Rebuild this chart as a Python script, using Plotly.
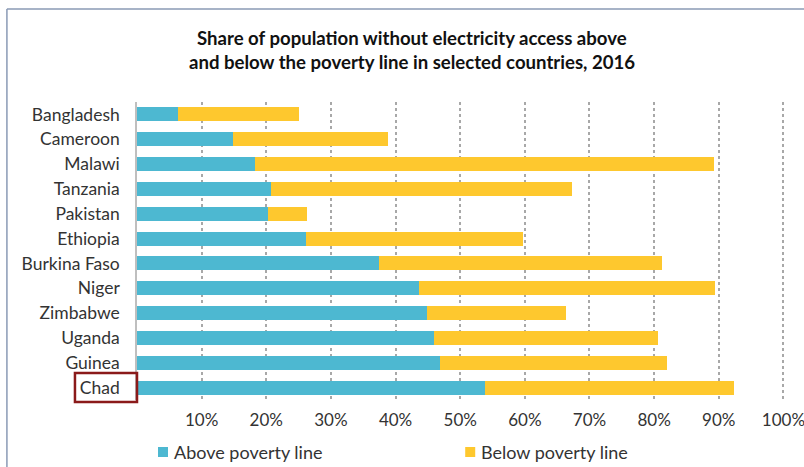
import plotly.graph_objects as go

countries = ["Bangladesh", "Cameroon", "Malawi", "Tanzania", "Pakistan", "Ethiopia",
             "Burkina Faso", "Niger", "Zimbabwe", "Uganda", "Guinea", "Chad"]
above = [6.4, 14.8, 18.3, 20.7, 20.3, 26.1, 37.5, 43.7, 44.9, 46.0, 46.8, 53.9]
below = [18.6, 24.0, 70.9, 46.6, 6.0, 33.6, 43.7, 45.7, 21.4, 34.6, 35.2, 38.4]
tick_vals = [10, 20, 30, 40, 50, 60, 70, 80, 90, 100]
tick_text = ["10%", "20%", "30%", "40%", "50%", "60%", "70%", "80%", "90%", "100%"]
series_names = ["Above poverty line", "Below poverty line"]

BLUE = "#4DB8D1"
YELLOW = "#FEC82E"
colors = [BLUE, YELLOW]

# plot area in pixels (x range slightly beyond 100 so the 100% gridline shows)
XMAX = 100.4
L, T, B = 137, 102, 400
R = L + 646 * XMAX / 100.0
W, H = R - L, B - T


def px(x):
    return (x - L) / W


def py(y):
    return (B - y) / H


fig = go.Figure()
for name, vals, col in zip(series_names, [above, below], colors):
    fig.add_trace(go.Bar(y=countries, x=vals, orientation="h", name=name,
                         marker=dict(color=col, line=dict(width=0)),
                         showlegend=False))

fig.update_layout(
    width=804, height=467,
    barmode="stack", bargap=0.43,
    paper_bgcolor="white", plot_bgcolor="white",
    margin=dict(l=L, r=804 - R, t=T, b=467 - B, autoexpand=False),
    font=dict(family="Lato", color="#333333"),
    xaxis=dict(range=[0, XMAX], tickmode="array", tickvals=tick_vals, ticktext=tick_text,
               showgrid=True, gridcolor="#A8A8A8", griddash="dot", gridwidth=1.5,
               zeroline=False, showline=False, ticks="", automargin=False,
               ticklabeloverflow="allow",
               tickfont=dict(family="Lato", size=17, color="#333333"),
               ticklabelstandoff=8, fixedrange=True),
    yaxis=dict(categoryorder="array", categoryarray=countries, autorange="reversed",
               showline=True, linecolor="#BFBFBF", linewidth=1.5, showgrid=False,
               ticks="", automargin=False,
               tickfont=dict(family="Lato", size=17.5, color="#333333"),
               ticklabelstandoff=12),
    showlegend=False,
)

fig.add_annotation(text="<b>Share of population without electricity access above</b>",
                   xref="paper", yref="paper", x=px(412), y=py(38),
                   xanchor="center", yanchor="middle", showarrow=False,
                   font=dict(family="Lato", size=18.6, color="#111111"))
fig.add_annotation(text="<b>and below the poverty line in selected countries, 2016</b>",
                   xref="paper", yref="paper", x=px(412), y=py(62),
                   xanchor="center", yanchor="middle", showarrow=False,
                   font=dict(family="Lato", size=18.6, color="#111111"))

# legend (manual)
legend_sq_x = [158, 465]
for sx, name, col in zip(legend_sq_x, series_names, colors):
    fig.add_shape(type="rect", xref="paper", yref="paper",
                  x0=px(sx), x1=px(sx + 10), y0=py(457), y1=py(447),
                  line=dict(width=0), fillcolor=col)
    fig.add_annotation(text=name, xref="paper", yref="paper",
                       x=px(sx + 14), y=py(452), xanchor="left", yanchor="middle",
                       showarrow=False,
                       font=dict(family="Lato", size=18, color="#333333"))

# Highlight box around "Chad"
fig.add_shape(type="rect", xref="paper", yref="paper",
              x0=px(75), x1=px(137), y0=py(402), y1=py(373),
              line=dict(color="#8B1A1A", width=2.5), fillcolor="rgba(0,0,0,0)")

# slide frame
fig.add_shape(type="line", xref="paper", yref="paper",
              x0=px(7), x1=px(7), y0=py(9), y1=py(480),
              line=dict(color="#8A9AB5", width=1.5))
fig.add_shape(type="line", xref="paper", yref="paper",
              x0=px(7), x1=px(820), y0=py(9), y1=py(9),
              line=dict(color="#8A9AB5", width=1.5))

fig.write_html("out.html", config={"displayModeBar": False},
               post_script="document.body.style.margin='0';document.body.style.padding='0';document.body.style.overflow='hidden';")
